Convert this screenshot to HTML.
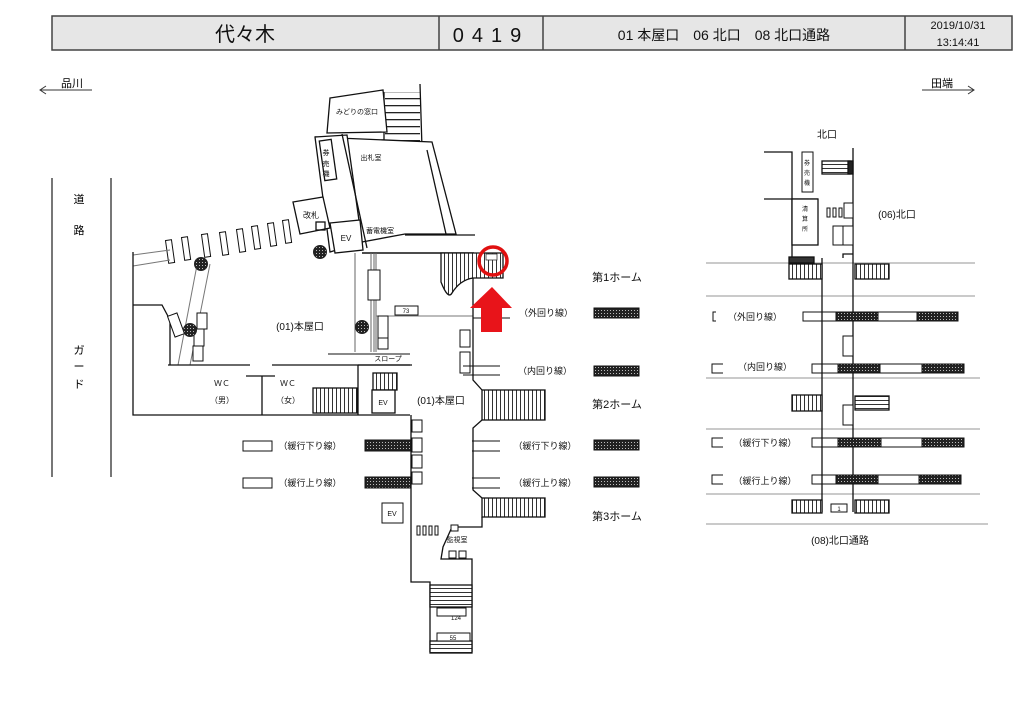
<!DOCTYPE html>
<html><head><meta charset="utf-8"><style>
html,body{margin:0;padding:0;background:#fff;}
svg{display:block;font-family:"Liberation Sans","Noto Sans CJK JP",sans-serif;}
</style></head><body>
<svg width="1024" height="712" viewBox="0 0 1024 712" xmlns="http://www.w3.org/2000/svg">
<defs>
<pattern id="h" width="3" height="3" patternUnits="userSpaceOnUse"><rect width="3" height="3" fill="#222"/><rect x="1" y="1" width="1" height="1" fill="#bbb"/></pattern>
<pattern id="st" width="4" height="10" patternUnits="userSpaceOnUse"><rect width="4" height="10" fill="#fff"/><rect width="1" height="10" fill="#333"/></pattern>
<pattern id="sth" width="10" height="4" patternUnits="userSpaceOnUse"><rect width="10" height="4" fill="#fff"/><rect width="10" height="1" fill="#333"/></pattern>
<pattern id="sth7" width="10" height="7" patternUnits="userSpaceOnUse"><rect width="10" height="7" fill="#fff"/><rect width="10" height="1.3" fill="#222"/></pattern>
</defs>
<!-- header -->
<rect x="52" y="16" width="960" height="34" fill="#e6e6e6" stroke="#444" stroke-width="1.5"/>
<line x1="439" y1="16" x2="439" y2="50" stroke="#444" stroke-width="1.5"/>
<line x1="543" y1="16" x2="543" y2="50" stroke="#444" stroke-width="1.5"/>
<line x1="905" y1="16" x2="905" y2="50" stroke="#444" stroke-width="1.5"/>
<text x="245" y="41" font-size="20" text-anchor="middle" fill="#111">代々木</text>
<text x="491" y="42" font-size="20" text-anchor="middle" letter-spacing="8" fill="#111">0419</text>
<text x="724" y="40" font-size="14" text-anchor="middle" fill="#111">01 本屋口　06 北口　08 北口通路</text>
<text x="958" y="29" font-size="11" text-anchor="middle" fill="#111">2019/10/31</text>
<text x="958" y="46" font-size="11" text-anchor="middle" fill="#111">13:14:41</text>
<!-- direction -->
<g stroke="#333" fill="none" stroke-width="1">
<line x1="40" y1="90" x2="92" y2="90"/><polyline points="46,86 40,90 46,94"/>
<line x1="922" y1="90" x2="974" y2="90"/><polyline points="968,86 974,90 968,94"/>
</g>
<text x="72" y="87" font-size="11" text-anchor="middle">品川</text>
<text x="942" y="87" font-size="11" text-anchor="middle">田端</text>
<!-- road -->
<g stroke="#777" stroke-width="2"><line x1="52" y1="178" x2="52" y2="477"/><line x1="111" y1="178" x2="111" y2="477"/></g>
<g font-size="11" text-anchor="middle"><text x="79" y="203">道</text><text x="79" y="234">路</text><text x="79" y="354">ガ</text><text x="79" y="370">ー</text><text x="79" y="388">ド</text></g>

<!-- LEFT MAP -->
<g stroke="#111" fill="none" stroke-width="1.3">
<!-- top stairs -->
<rect x="385" y="92" width="35" height="56" fill="url(#sth7)" stroke="none"/>
<line x1="384" y1="92" x2="384" y2="148"/><line x1="420" y1="84" x2="422" y2="148"/>
<polygon points="330,98 383,90 387,132 327,133" fill="#fff"/>
<!-- building -->
<polygon points="315,137 432,142 456,234 405,234 362,242 347,138" fill="#fff"/>
<polygon points="315,137 347,135 362,242 330,252" fill="#fff"/>
<line x1="342" y1="134" x2="367" y2="248"/>
<rect x="322" y="140" width="12" height="40" transform="rotate(-8 328 160)"/>
<line x1="427" y1="150" x2="446" y2="234"/>
<polygon points="293,202 323,197 330,228 300,234" fill="#fff"/>
<rect x="316" y="222" width="9" height="8"/>
<polygon points="330,223 360,220 363,250 335,253" fill="#fff"/>
<line x1="405" y1="235" x2="475" y2="235"/>
<line x1="362" y1="253" x2="474" y2="253" stroke-width="1.6"/>
<!-- diagonal slats -->
<g stroke-width="1">
<rect x="167" y="240" width="6" height="23" transform="rotate(-8 170 251)"/>
<rect x="183" y="237" width="6" height="23" transform="rotate(-8 186 248)"/>
<rect x="203" y="234" width="6" height="23" transform="rotate(-8 206 245)"/>
<rect x="221" y="232" width="6" height="23" transform="rotate(-8 224 243)"/>
<rect x="238" y="229" width="6" height="23" transform="rotate(-8 241 240)"/>
<rect x="253" y="226" width="6" height="23" transform="rotate(-8 256 237)"/>
<rect x="269" y="223" width="6" height="23" transform="rotate(-8 272 234)"/>
<rect x="284" y="220" width="6" height="23" transform="rotate(-8 287 231)"/>
<line x1="133" y1="255" x2="170" y2="250" stroke="#777"/><line x1="133" y1="266" x2="170" y2="260" stroke="#777"/>
<line x1="197" y1="265" x2="178" y2="365" stroke="#777"/><line x1="210" y1="264" x2="190" y2="365" stroke="#777"/>
</g>
<!-- outer walls -->
<polyline points="133,252 133,415 410,415"/>
<polyline points="133,305 162,305 170,320 170,365"/>
<line x1="168" y1="365" x2="250" y2="365"/><line x1="272" y1="365" x2="412" y2="365"/>
<line x1="246" y1="376" x2="275" y2="376"/><line x1="262" y1="376" x2="262" y2="415"/>
<line x1="358" y1="365" x2="358" y2="415"/>
<!-- vertical corridor -->
<g stroke-width="1" stroke="#666"><line x1="355" y1="253" x2="355" y2="352"/><line x1="371" y1="253" x2="371" y2="352"/><line x1="374" y1="253" x2="374" y2="352"/><line x1="376" y1="253" x2="376" y2="352"/></g>
<line x1="376" y1="316" x2="473" y2="316" stroke="#777" stroke-width="1"/>
<line x1="328" y1="354" x2="410" y2="354" stroke-width="1"/>
<line x1="358" y1="365" x2="410" y2="365"/>
<g stroke-width="1" fill="#fff">
<rect x="368" y="270" width="12" height="30"/>
<rect x="395" y="306" width="23" height="9"/>
<rect x="378" y="316" width="10" height="22"/>
<rect x="378" y="338" width="10" height="11"/>
<rect x="171" y="314" width="10" height="22" transform="rotate(-20 176 325)"/>
<rect x="197" y="313" width="10" height="16"/>
<rect x="194" y="329" width="10" height="17"/>
<rect x="193" y="346" width="10" height="15"/>
</g>
<!-- WC stairs, EV -->
<rect x="313" y="388" width="44" height="25" fill="url(#st)"/>
<rect x="373" y="373" width="24" height="17" fill="url(#st)"/>
<rect x="372" y="390" width="23" height="23" fill="#fff"/>
<!-- fan stairs -->
<path d="M441,253 L441,282 Q448,300 452,293 Q460,280 473,278 L503,278 L503,253 Z" fill="url(#st)"/>
<!-- right wall center -->
<polyline points="473,278 473,380 482,390"/>
<rect x="482" y="390" width="63" height="30" fill="url(#st)"/>
<polyline points="482,420 473,428 473,490 482,498"/>
<rect x="482" y="498" width="63" height="19" fill="url(#st)"/>
<polyline points="482,517 482,527 452,527 443,547 441,559 472,559 472,652"/>
<polyline points="411,415 411,582 430,582 430,652"/>
<rect x="430" y="585" width="42" height="22" fill="url(#sth)"/>
<rect x="430" y="641" width="42" height="12" fill="url(#sth)"/>
<g stroke-width="1" fill="#fff">
<rect x="437" y="608" width="29" height="8"/><rect x="437" y="633" width="33" height="8"/>
<rect x="460" y="330" width="10" height="17"/><rect x="460" y="352" width="10" height="21"/>
<rect x="412" y="420" width="10" height="12"/><rect x="412" y="438" width="10" height="14"/>
<rect x="412" y="455" width="10" height="13"/><rect x="412" y="472" width="10" height="12"/>
<rect x="382" y="503" width="21" height="20"/>
<rect x="417" y="526" width="3" height="9"/><rect x="423" y="526" width="3" height="9"/><rect x="429" y="526" width="3" height="9"/><rect x="435" y="526" width="3" height="9"/>
<rect x="451" y="525" width="7" height="6"/><rect x="449" y="551" width="7" height="7"/><rect x="459" y="551" width="7" height="7"/>
</g>
<g stroke-dasharray="2,2" stroke-width="1"><line x1="430" y1="608" x2="430" y2="640"/><line x1="472" y1="608" x2="472" y2="640"/></g>
<!-- platform rows center -->
<g stroke-width="1">
<line x1="473" y1="306" x2="510" y2="306"/><line x1="473" y1="318" x2="510" y2="318"/>
<line x1="463" y1="366" x2="500" y2="366"/><line x1="463" y1="375" x2="500" y2="375"/>
<line x1="472" y1="441" x2="500" y2="441"/><line x1="472" y1="451" x2="500" y2="451"/>
<line x1="472" y1="478" x2="500" y2="478"/><line x1="472" y1="488" x2="500" y2="488"/>
<rect x="243" y="441" width="29" height="10"/><rect x="243" y="478" width="29" height="10"/>
</g>
</g>
<!-- hatched bars -->
<g fill="url(#h)" stroke="#111" stroke-width="1">
<rect x="594" y="308" width="45" height="10"/>
<rect x="594" y="366" width="45" height="10"/>
<rect x="594" y="440" width="45" height="10"/>
<rect x="594" y="477" width="45" height="10"/>
<rect x="365" y="440" width="46" height="11"/>
<rect x="365" y="477" width="46" height="11"/>
</g>
<!-- circles -->
<g fill="url(#h)" stroke="#222"><circle cx="201" cy="264" r="6.5"/><circle cx="320" cy="252" r="6.5"/><circle cx="190" cy="330" r="6.5"/><circle cx="362" cy="327" r="6.5"/></g>
<!-- red marker -->
<circle cx="493" cy="261" r="14" fill="none" stroke="#e01010" stroke-width="3.5"/>
<rect x="486" y="254" width="11" height="6" fill="#fff" stroke="#333" stroke-width="0.8"/>
<polygon points="492,287 512,308 502,308 502,332 481,332 481,308 470,308" fill="#e8141a"/>
<!-- labels left map -->
<g font-size="9" text-anchor="middle" fill="#111">
<text x="357" y="114" font-size="7">みどりの窓口</text>
<text x="371" y="160" font-size="7">出札室</text>
<text x="326" y="155" font-size="7">券</text><text x="326" y="166" font-size="7">売</text><text x="326" y="176" font-size="7">機</text>
<text x="311" y="218" font-size="8">改札</text>
<text x="346" y="241" font-size="8">EV</text>
<text x="380" y="233" font-size="7">蓄電機室</text>
<text x="300" y="330" font-size="10">(01)本屋口</text>
<text x="441" y="404" font-size="10">(01)本屋口</text>
<text x="388" y="361" font-size="7">スロープ</text>
<text x="222" y="386" font-size="8">ＷＣ</text><text x="222" y="403" font-size="8">（男）</text>
<text x="288" y="386" font-size="8">ＷＣ</text><text x="288" y="403" font-size="8">（女）</text>
<text x="383" y="405" font-size="7">EV</text><text x="392" y="516" font-size="7">EV</text>
<text x="406" y="313" font-size="6">73</text><text x="456" y="620" font-size="6">124</text><text x="453" y="640" font-size="6">55</text>
<text x="457" y="542" font-size="7">監視室</text>
<text x="546" y="316">（外回り線）</text>
<text x="545" y="374">（内回り線）</text>
<text x="545" y="449">（緩行下り線）</text>
<text x="545" y="486">（緩行上り線）</text>
<text x="310" y="449">（緩行下り線）</text>
<text x="310" y="486">（緩行上り線）</text>
<text x="617" y="281" font-size="11">第1ホーム</text>
<text x="617" y="408" font-size="11">第2ホーム</text>
<text x="617" y="520" font-size="11">第3ホーム</text>
</g>

<!-- RIGHT MAP -->
<g stroke="#aaa" stroke-width="1.3"><line x1="706" y1="263" x2="975" y2="263"/><line x1="706" y1="296" x2="975" y2="296"/><line x1="706" y1="378" x2="980" y2="378"/><line x1="706" y1="429" x2="980" y2="429"/><line x1="706" y1="494" x2="980" y2="494"/><line x1="706" y1="524" x2="988" y2="524"/></g>
<g stroke="#111" fill="none" stroke-width="1.3">
<polyline points="764,152 792,152 792,258"/>
<line x1="853" y1="148" x2="853" y2="258"/>
<line x1="764" y1="199" x2="818" y2="199"/>
<rect x="792" y="199" width="26" height="46" fill="#fff"/>
<rect x="802" y="152" width="11" height="40" stroke-width="1"/>
<rect x="822" y="161" width="28" height="13" fill="url(#sth)"/>
<rect x="848" y="161" width="5" height="13" fill="#222"/>
<polyline points="822,258 822,512"/><polyline points="853,258 853,512"/>
<polyline points="843,258 843,254 853,254"/>
<g stroke-width="1" fill="#fff">
<rect x="827" y="208" width="3" height="9"/><rect x="833" y="208" width="3" height="9"/><rect x="839" y="208" width="3" height="9"/>
<rect x="844" y="203" width="9" height="15"/><rect x="833" y="226" width="10" height="19"/><rect x="843" y="226" width="10" height="19"/>
<rect x="843" y="336" width="10" height="20"/><rect x="843" y="405" width="10" height="20"/>
<rect x="831" y="504" width="16" height="8"/>
</g>
<rect x="789" y="264" width="33" height="15" fill="url(#st)"/>
<rect x="789" y="257" width="25" height="6" fill="#333"/>
<rect x="855" y="264" width="34" height="15" fill="url(#st)"/>
<rect x="792" y="395" width="30" height="16" fill="url(#st)"/>
<rect x="855" y="396" width="34" height="14" fill="url(#sth)"/>
<rect x="792" y="500" width="30" height="13" fill="url(#st)"/>
<rect x="855" y="500" width="34" height="13" fill="url(#st)"/>
<g stroke-width="1">
<rect x="803" y="312" width="155" height="9"/><rect x="812" y="364" width="152" height="9"/>
<rect x="812" y="438" width="152" height="9"/><rect x="812" y="475" width="149" height="9"/>
<polyline points="716,312 713,312 713,321 716,321"/>
<polyline points="723,364 712,364 712,373 723,373"/>
<polyline points="723,438 712,438 712,447 723,447"/>
<polyline points="723,475 712,475 712,484 723,484"/>
</g>
</g>
<g fill="url(#h)" stroke="#111" stroke-width="1">
<rect x="836" y="312" width="42" height="9"/><rect x="917" y="312" width="41" height="9"/>
<rect x="838" y="364" width="42" height="9"/><rect x="922" y="364" width="42" height="9"/>
<rect x="838" y="438" width="43" height="9"/><rect x="922" y="438" width="42" height="9"/>
<rect x="836" y="475" width="42" height="9"/><rect x="919" y="475" width="42" height="9"/>
</g>
<g font-size="9" text-anchor="middle" fill="#111">
<text x="827" y="138" font-size="10">北口</text>
<text x="897" y="218" font-size="10">(06)北口</text>
<text x="807" y="165" font-size="6">券</text><text x="807" y="175" font-size="6">売</text><text x="807" y="185" font-size="6">機</text>
<text x="805" y="211" font-size="6">清</text><text x="805" y="221" font-size="6">算</text><text x="805" y="231" font-size="6">所</text>
<text x="755" y="320">（外回り線）</text>
<text x="765" y="370">（内回り線）</text>
<text x="765" y="446">（緩行下り線）</text>
<text x="765" y="484">（緩行上り線）</text>
<text x="839" y="511" font-size="6">1</text>
<text x="840" y="544" font-size="10">(08)北口通路</text>
</g>
</svg>
</body></html>
